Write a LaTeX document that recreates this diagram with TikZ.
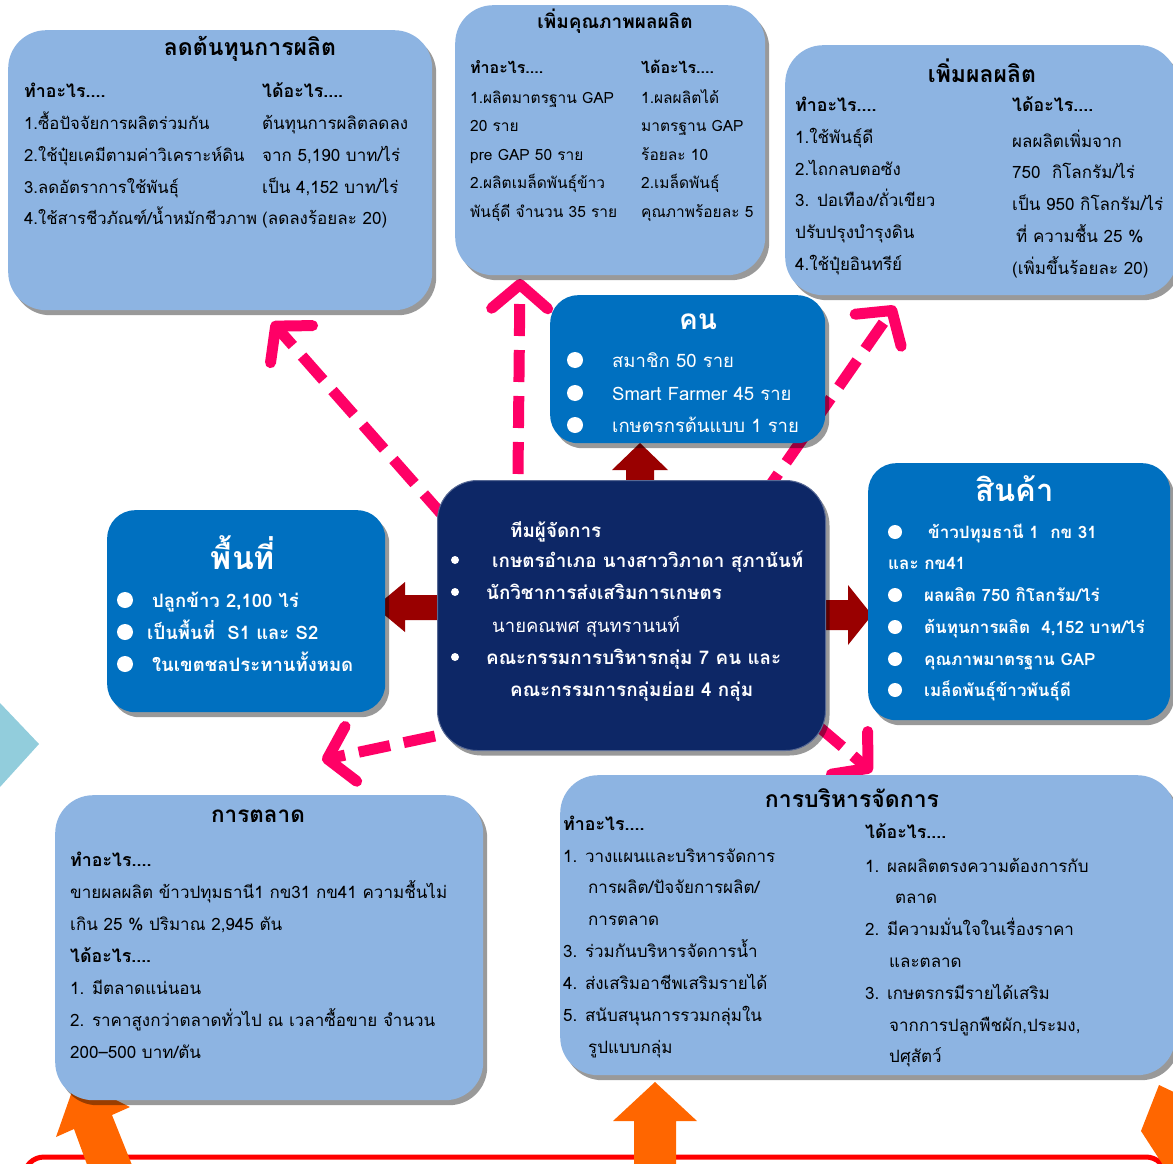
\documentclass[tikz,border=0pt]{standalone}
\usepackage{fontspec}
\setmainfont[Script=Thai]{Loma}
\usetikzlibrary{arrows.meta,shadows}
\definecolor{lightbox}{HTML}{8DB4E2}
\definecolor{bluebox}{HTML}{0070C0}
\definecolor{navybox}{HTML}{0D2766}
\definecolor{pinkarr}{HTML}{FF0066}
\definecolor{darkred}{HTML}{990000}
\definecolor{orangearr}{HTML}{FF6600}
\definecolor{paleblue}{HTML}{92CDDC}
\definecolor{redline}{HTML}{FF0000}
\tikzset{
  shd/.style={drop shadow={shadow xshift=4pt, shadow yshift=-5pt, opacity=0.4, fill=black}},
  lbox/.style={fill=lightbox, rounded corners=38pt, inner sep=0pt, anchor=north west, shd},
  bbox/.style={fill=bluebox, rounded corners=28pt, inner sep=0pt, anchor=north west, shd},
  nbox/.style={fill=navybox, draw=navybox!70!white, line width=1pt, rounded corners=40pt, inner sep=0pt, anchor=north west, shd},
  t/.style={anchor=base west, inner sep=0pt, font=\fontsize{17}{20}\selectfont},
  tb/.style={anchor=base west, inner sep=0pt, font=\bfseries\fontsize{17.8}{21}\selectfont},
  ts/.style={anchor=base west, inner sep=0pt, font=\fontsize{15.5}{18}\selectfont},
  tsb/.style={anchor=base west, inner sep=0pt, font=\bfseries\fontsize{16}{19}\selectfont},
  ttl/.style={anchor=base, inner sep=0pt, font=\bfseries\fontsize{23}{27}\selectfont},
  wt/.style={anchor=base west, inner sep=0pt, text=white, font=\fontsize{18.5}{22}\selectfont},
  wtb/.style={anchor=base west, inner sep=0pt, text=white, font=\bfseries\fontsize{18.8}{22}\selectfont},
  wtc/.style={anchor=base west, inner sep=0pt, text=white, font=\bfseries\fontsize{17}{20}\selectfont},
  wttl/.style={anchor=base, inner sep=0pt, text=white, font=\bfseries\fontsize{31}{36}\selectfont},
  dashedarrow/.style={draw=pinkarr, line width=11pt, dash pattern=on 32pt off 14pt,
     -{Straight Barb[length=24pt,width=56pt,round]}},
}
\begin{document}
\begin{tikzpicture}[x=1pt,y=-1pt]
\useasboundingbox (0,0) rectangle (1173,1164);
\clip (0,0) rectangle (1173,1164);

% pale triangle on the left
\fill[paleblue] (0,703) -- (39,744) -- (0,787) -- cycle;

% red frame at the bottom
\draw[redline, line width=5pt, rounded corners=20pt] (24,1240) rectangle (1166,1157);

% orange block arrows (under the boxes)
\fill[orangearr] (76,1080) -- (130,1107) -- (112,1115) -- (140,1185) -- (100,1200) -- (74,1129) -- (56,1137) -- cycle;
\fill[orangearr] (655,1082) -- (697,1121) -- (676,1121) -- (676,1170) -- (634,1170) -- (634,1121) -- (613,1121) -- cycle;
\fill[orangearr] (1159,1085) -- (1141,1131) -- (1165,1168) -- (1180,1168) -- (1180,1095) -- cycle;

% named end points of the dashed connectors
\coordinate (s1) at (445,518);  \coordinate (e1) at (272,322);
\coordinate (s2) at (518,474);  \coordinate (e2) at (520,279);
\coordinate (s3) at (760,500);  \coordinate (e3) at (895,306);
\coordinate (s4) at (435,736);  \coordinate (e4) at (322,760);
\coordinate (s5) at (818,726);  \coordinate (e5) at (872,772);
\draw[dashedarrow] (s1) -- (e1);
\draw[dashedarrow] (s2) -- (e2);
\draw[dashedarrow] (s3) -- (e3);
\draw[dashedarrow] (s4) -- (e4);
\draw[dashedarrow] (s5) -- (e5);

% dark red block arrows
\fill[darkred] (640,443) -- (668,470) -- (654,470) -- (654,490) -- (626,490) -- (626,470) -- (612,470) -- cycle;
\fill[darkred] (375,607) -- (405,582) -- (405,595) -- (445,595) -- (445,620) -- (405,620) -- (405,632) -- cycle;
\fill[darkred] (872,615) -- (848,585) -- (848,600) -- (815,600) -- (815,630) -- (848,630) -- (848,645) -- cycle;

% ---------- box 1 : ลดต้นทุนการผลิต ----------
\node[lbox, minimum width=424pt, minimum height=280pt] (cost) at (8,30) {};
\node[ttl] (costt) at (250,56) {ลดต้นทุนการผลิต};
\node[tb] (costh1) at (24,98) {ทำอะไร....};
\node[tb] (costh2) at (262,98) {ได้อะไร....};
\node[t, font=\fontsize{16.7}{20}\selectfont] (costl1) at (24,129) {1.ซื้อปัจจัยการผลิตร่วมกัน};
\node[t, font=\fontsize{16.7}{20}\selectfont] (costl2) at (24,161) {2.ใช้ปุ๋ยเคมีตามค่าวิเคราะห์ดิน};
\node[t, font=\fontsize{16.7}{20}\selectfont] (costl3) at (24,193) {3.ลดอัตราการใช้พันธุ์};
\node[t, font=\fontsize{16.7}{20}\selectfont] (costl4) at (24,224) {4.ใช้สารชีวภัณฑ์/น้ำหมักชีวภาพ};
\node[t] (costr1) at (262,129) {ต้นทุนการผลิตลดลง};
\node[t] (costr2) at (262,161) {จาก 5,190 บาท/ไร่};
\node[t] (costr3) at (262,193) {เป็น 4,152 บาท/ไร่};
\node[t] (costr4) at (262,224) {(ลดลงร้อยละ 20)};

% ---------- box 2 : เพิ่มคุณภาพผลผลิต ----------
\node[lbox, minimum width=310pt, minimum height=270pt] (qual) at (455,5) {};
\node[ttl, font=\bfseries\fontsize{19}{22}\selectfont] (qualt) at (615,29) {เพิ่มคุณภาพผลผลิต};
\node[tsb] (qualh1) at (470,74) {ทำอะไร....};
\node[tsb] (qualh2) at (641,74) {ได้อะไร....};
\node[ts] (quall1) at (470,103) {1.ผลิตมาตรฐาน GAP};
\node[ts] (quall2) at (470,131) {20 ราย};
\node[ts] (quall3) at (470,160) {pre GAP 50 ราย};
\node[ts] (quall4) at (470,188) {2.ผลิตเมล็ดพันธุ์ข้าว};
\node[ts] (quall5) at (470,217) {พันธุ์ดี จำนวน 35 ราย};
\node[ts] (qualr1) at (641,103) {1.ผลผลิตได้};
\node[ts] (qualr2) at (641,131) {มาตรฐาน GAP};
\node[ts] (qualr3) at (641,160) {ร้อยละ 10};
\node[ts] (qualr4) at (641,188) {2.เมล็ดพันธุ์};
\node[ts] (qualr5) at (641,217) {คุณภาพร้อยละ 5};

% ---------- box 3 : เพิ่มผลผลิต ----------
\node[lbox, minimum width=392pt, minimum height=250pt] (yield) at (785,45) {};
\node[ttl] (yieldt) at (982,82) {เพิ่มผลผลิต};
\node[tb] (yieldh1) at (795,111) {ทำอะไร....};
\node[tb] (yieldh2) at (1012,111) {ได้อะไร....};
\node[t] (yieldl1) at (795,143) {1.ใช้พันธุ์ดี};
\node[t] (yieldl2) at (795,175) {2.ไถกลบตอซัง};
\node[t] (yieldl3) at (795,206) {3. ปอเทือง/ถั่วเขียว};
\node[t] (yieldl4) at (795,238) {ปรับปรุงบำรุงดิน};
\node[t] (yieldl5) at (795,270) {4.ใช้ปุ๋ยอินทรีย์};
\node[t] (yieldr1) at (1012,147) {ผลผลิตเพิ่มจาก};
\node[t] (yieldr2) at (1012,178) {750~~กิโลกรัม/ไร่};
\node[t] (yieldr3) at (1012,210) {เป็น 950 กิโลกรัม/ไร่};
\node[t] (yieldr4) at (1016,242) {ที่ ความชื้น 25 \%};
\node[t] (yieldr5) at (1012,274) {(เพิ่มขึ้นร้อยละ 20)};

% ---------- box คน ----------
\node[bbox, minimum width=275pt, minimum height=148pt] (people) at (550,295) {};
\node[wttl, font=\bfseries\fontsize{28}{32}\selectfont] (peoplet) at (698,329) {คน};
\fill[white] (575,360) circle (8pt) (575,393) circle (8pt) (575,425) circle (8pt);
\node[wt] (peoplel1) at (612,367) {สมาชิก 50 ราย};
\node[wt] (peoplel2) at (612,400) {Smart Farmer 45 ราย};
\node[wt] (peoplel3) at (612,432) {เกษตรกรต้นแบบ 1 ราย};

% ---------- central box ----------
\node[nbox, minimum width=388pt, minimum height=270pt] (mgr) at (437,480) {};
\fill[white] (455,560) circle (4pt) (455,592) circle (4pt) (455,657) circle (4pt);
\node[wtb] (mgr1) at (510,537) {ทีมผู้จัดการ};
\node[wtb] (mgr2) at (492,567) {เกษตรอำเภอ นางสาววิภาดา สุภานันท์};
\node[wtb] (mgr3) at (486,599) {นักวิชาการส่งเสริมการเกษตร};
\node[wt] (mgr4) at (492,632) {นายคณพศ สุนทรานนท์};
\node[wtb] (mgr5) at (486,664) {คณะกรรมการบริหารกลุ่ม 7 คน และ};
\node[wtb] (mgr6) at (510,696) {คณะกรรมการกลุ่มย่อย 4 กลุ่ม};

% ---------- box พื้นที่ ----------
\node[bbox, minimum width=278pt, minimum height=202pt] (area) at (107,510) {};
\node[wttl, font=\bfseries\fontsize{32}{36}\selectfont] (areat) at (243,569) {พื้นที่};
\fill[white] (125,600) circle (8pt) (125,632) circle (8pt) (125,664) circle (8pt);
\node[wtb, font=\bfseries\fontsize{18.5}{22}\selectfont] (area1) at (152,607) {ปลูกข้าว 2,100 ไร่};
\node[wtb, font=\bfseries\fontsize{18.5}{22}\selectfont] (area2) at (147,639) {เป็นพื้นที่~~S1 และ S2};
\node[wtb, font=\bfseries\fontsize{18.5}{22}\selectfont] (area3) at (152,671) {ในเขตชลประทานทั้งหมด};

% ---------- box สินค้า ----------
\node[bbox, minimum width=302pt, minimum height=257pt] (goods) at (868,463) {};
\node[wttl] (goodst) at (1015,501) {สินค้า};
\fill[white] (895,532) circle (7pt) (895,595) circle (7pt) (895,627) circle (7pt) (895,659) circle (7pt) (895,690) circle (7pt);
\node[wtc] (goods1) at (928,538) {ข้าวปทุมธานี 1~~กข 31};
\node[wtc] (goods2) at (888,569) {และ กข41};
\node[wtc] (goods3) at (924,601) {ผลผลิต 750 กิโลกรัม/ไร่};
\node[wtc] (goods4) at (924,633) {ต้นทุนการผลิต~~4,152 บาท/ไร่};
\node[wtc] (goods5) at (924,665) {คุณภาพมาตรฐาน GAP};
\node[wtc] (goods6) at (924,696) {เมล็ดพันธุ์ข้าวพันธุ์ดี};

% ---------- box การตลาด ----------
\node[lbox, minimum width=428pt, minimum height=305pt] (market) at (55,795) {};
\node[ttl, font=\bfseries\fontsize{22.5}{26}\selectfont] (markett) at (258,822) {การตลาด};
\node[tb] (marketh1) at (70,866) {ทำอะไร....};
\node[t] (market1) at (70,898) {ขายผลผลิต ข้าวปทุมธานี1 กข31 กข41 ความชื้นไม่};
\node[t] (market2) at (70,930) {เกิน 25 \% ปริมาณ 2,945 ตัน};
\node[tb] (marketh2) at (70,962) {ได้อะไร....};
\node[t] (market3) at (70,994) {1. มีตลาดแน่นอน};
\node[t] (market4) at (70,1026) {2. ราคาสูงกว่าตลาดทั่วไป ณ เวลาซื้อขาย จำนวน};
\node[t] (market5) at (70,1058) {200–500 บาท/ตัน};

% ---------- box การบริหารจัดการ ----------
\node[lbox, minimum width=615pt, minimum height=300pt] (manage) at (560,775) {};
\node[ttl] (managet) at (852,807) {การบริหารจัดการ};
\node[tb] (manageh1) at (563,830) {ทำอะไร....};
\node[t] (managel1) at (563,862) {1. วางแผนและบริหารจัดการ};
\node[t] (managel2) at (588,893) {การผลิต/ปัจจัยการผลิต/};
\node[t] (managel3) at (588,925) {การตลาด};
\node[t] (managel4) at (563,957) {3. ร่วมกันบริหารจัดการน้ำ};
\node[t] (managel5) at (563,989) {4. ส่งเสริมอาชีพเสริมรายได้};
\node[t] (managel6) at (563,1021) {5. สนับสนุนการรวมกลุ่มใน};
\node[t] (managel7) at (588,1053) {รูปแบบกลุ่ม};
\node[tb] (manageh2) at (865,838) {ได้อะไร....};
\node[t] (manager1) at (865,872) {1. ผลผลิตตรงความต้องการกับ};
\node[t] (manager2) at (895,903) {ตลาด};
\node[t] (manager3) at (865,935) {2. มีความมั่นใจในเรื่องราคา};
\node[t] (manager4) at (889,967) {และตลาด};
\node[t] (manager5) at (865,999) {3. เกษตรกรมีรายได้เสริม};
\node[t] (manager6) at (889,1031) {จากการปลูกพืชผัก,ประมง,};
\node[t] (manager7) at (889,1062) {ปศุสัตว์};
\end{tikzpicture}
\end{document}
